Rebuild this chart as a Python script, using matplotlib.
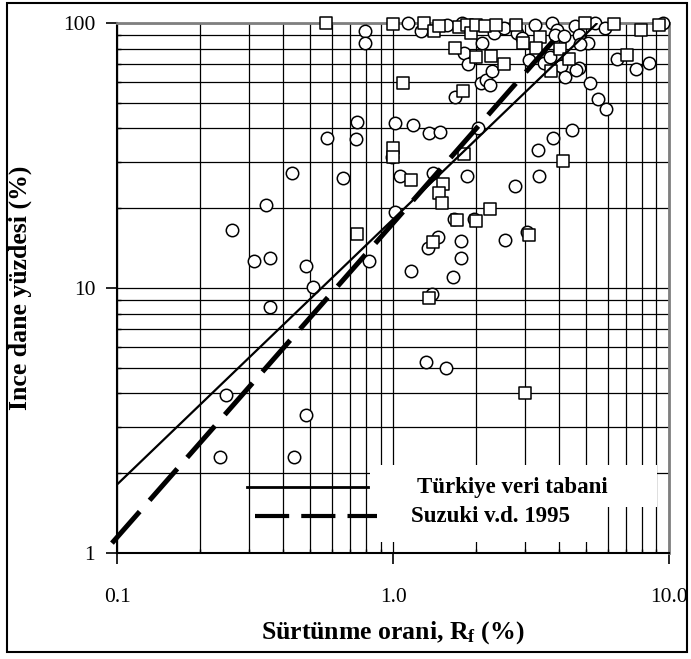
import matplotlib
matplotlib.use("Agg")
import matplotlib.pyplot as plt
from matplotlib.patches import Rectangle
from matplotlib.lines import Line2D

plt.rcParams['font.family'] = ['Liberation Serif', 'DejaVu Serif']
plt.rcParams['mathtext.fontset'] = 'custom'
plt.rcParams['mathtext.rm'] = 'Liberation Serif:bold'
plt.rcParams['mathtext.bf'] = 'Liberation Serif:bold'
plt.rcParams['mathtext.it'] = 'Liberation Serif:bold'

# ---- data ----
circle_x = [0.235, 0.248, 0.261, 0.346, 0.314, 0.356, 0.356, 0.429, 0.435, 0.483,
            0.483, 0.511, 0.574, 0.656, 0.739, 0.733, 0.790, 0.790, 0.814, 1.017,
            0.992, 1.017, 1.06, 1.178, 1.165, 1.136, 1.259, 1.35, 1.476, 1.395,
            1.313, 1.559, 1.342, 1.458, 1.38, 1.564, 1.648, 1.676, 1.758, 1.758,
            1.772, 1.806, 1.872, 1.857, 2.035, 2.104, 2.076, 2.164, 2.243, 2.275,
            2.319, 2.52, 2.542, 2.762, 2.815, 2.928, 3.104, 3.282, 3.345, 3.373,
            3.531, 3.775, 3.8, 3.928, 3.853, 4.153, 3.928, 3.719, 4.075, 4.188,
            4.466, 4.552, 4.707, 5.085, 4.774, 4.735, 4.602, 5.188, 5.41, 5.529,
            5.88, 5.908, 6.474, 7.585, 8.48, 9.55, 1.666, 1.963, 3.05]
circle_y = [2.31, 3.95, 16.5, 20.5, 12.7, 13.0, 8.5, 27.1, 2.31, 12.1,
            3.31, 10.1, 36.9, 25.9, 42.4, 36.5, 93.5, 83.8, 12.6, 42.0,
            31.2, 19.3, 26.5, 41.3, 11.6, 100, 93.3, 38.4, 38.9, 27.2,
            5.26, 4.98, 14.2, 15.6, 9.49, 98.5, 11.0, 52.6, 15.1, 13.0,
            100, 77.3, 70.2, 26.5, 40.0, 83.7, 59.3, 60.9, 58.3, 65.9,
            91.9, 95.7, 15.2, 24.3, 91.3, 87.4, 72.2, 98.5, 33.2, 26.5,
            70.8, 100, 36.9, 93.9, 90.3, 89.3, 75.5, 74.4, 68.8, 62.5,
            39.3, 97.4, 89.9, 83.7, 83.6, 67.6, 66.3, 59.5, 100, 51.5,
            95.7, 47.2, 73.3, 66.9, 70.8, 100, 18.2, 18.2, 16.3]

square_x = [0.571, 1.0, 1.0, 1.0, 0.739, 1.084, 1.165, 1.294, 1.407, 1.467,
            1.669, 1.726, 1.857, 1.91, 1.991, 1.991, 1.791, 1.806, 1.519, 1.467,
            1.498, 2.238, 1.704, 1.991, 1.395, 3.104, 1.35, 2.995, 2.157, 2.258,
            2.352, 2.52, 2.779, 2.96, 3.42, 3.299, 4.041, 4.33, 3.737, 4.977,
            6.325, 7.935, 9.2, 7.04, 4.126]
square_y = [99.7, 99.1, 33.8, 31.2, 16.0, 59.4, 25.6, 100, 93.3, 97.4,
            80.5, 96.6, 98.7, 91.3, 98.7, 74.1, 55.5, 32.0, 24.7, 22.8,
            21.0, 19.9, 18.0, 17.9, 14.9, 15.9, 9.19, 4.0, 97.2, 75.3,
            98.5, 70.0, 98.5, 84.0, 88.5, 80.5, 79.6, 73.3, 65.7, 100,
            99.4, 93.7, 98.7, 75.5, 30.2]

turkiye_x = [0.1, 5.5]
turkiye_y = [1.82, 100]
suzuki_x = [0.0955, 4.04]
suzuki_y = [1.09, 91.9]

x_ticks = [0.1, 1.0, 10.0]
x_ticklabels = ['0.1', '1.0', '10.0']
y_ticks = [1, 10, 100]
y_ticklabels = ['1', '10', '100']

legend_labels = ['Türkiye veri tabani', 'Suzuki v.d. 1995']

# ---- figure ----
fig = plt.figure(figsize=(6.91, 6.59), dpi=100)
ax = fig.add_axes([0.170, 0.1608, 0.798, 0.8043])
ax.set_xscale('log')
ax.set_yscale('log')
ax.set_xlim(0.1, 10)
ax.set_ylim(1, 100)

ax.grid(True, which='both', color='black', linewidth=0.9, zorder=1)
ax.set_axisbelow(True)

ax.scatter(circle_x, circle_y, s=80, marker='o', facecolors='white',
           edgecolors='black', linewidths=1.1, zorder=3, clip_on=False)
ax.scatter(square_x, square_y, s=72, marker='s', facecolors='white',
           edgecolors='black', linewidths=1.1, zorder=3.5, clip_on=False)

ax.plot(turkiye_x, turkiye_y, color='black', lw=1.6, zorder=5,
        solid_capstyle='butt')
ax.plot(suzuki_x, suzuki_y, color='black', lw=3.6, zorder=5,
        linestyle=(0, (8.4, 3.0)), dash_capstyle='butt', clip_on=False)

ax.set_xticks(x_ticks)
ax.set_xticklabels(x_ticklabels)
ax.set_yticks(y_ticks)
ax.set_yticklabels(y_ticklabels)
ax.xaxis.set_minor_formatter(plt.NullFormatter())
ax.yaxis.set_minor_formatter(plt.NullFormatter())
ax.tick_params(axis='both', which='major', direction='out', length=8,
               width=1.2, labelsize=15.5)
ax.tick_params(axis='x', which='major', pad=17)
ax.tick_params(axis='y', which='major', pad=8)
ax.tick_params(axis='both', which='minor', direction='in', length=3, width=1)

for s in ['left', 'bottom']:
    ax.spines[s].set_color('black')
    ax.spines[s].set_linewidth(1.5)
for s in ['top', 'right']:
    ax.spines[s].set_color('#7f7f7f')
    ax.spines[s].set_linewidth(2)

ax.set_xlabel('Sürtünme orani, R$_{\\mathbf{f}}$ (%)', fontsize=18.5,
              fontweight='bold')
ax.set_ylabel('Ince dane yüzdesi (%)', fontsize=18.5, fontweight='bold')
ax.xaxis.set_label_coords(0.5, -0.125)
ax.yaxis.set_label_coords(-0.155, 0.5)

# legend area
ax.add_patch(Rectangle((0.458, 0.0868), 0.52, 0.0792, transform=ax.transAxes,
                       facecolor='white', edgecolor='none', zorder=2))
ax.add_patch(Rectangle((0.458, 0.0208), 0.417, 0.0792, transform=ax.transAxes,
                       facecolor='white', edgecolor='none', zorder=2))
ax.add_line(Line2D([0.2348, 0.4542], [0.1245, 0.1245], transform=ax.transAxes,
                   color='black', lw=2.0, zorder=6))
ax.add_line(Line2D([0.2493, 0.470], [0.0698, 0.0698], transform=ax.transAxes,
                   color='black', lw=3.0, linestyle=(0, (8.2, 2.9)),
                   dash_capstyle='butt', zorder=6))
ax.text(0.543, 0.1245, legend_labels[0], transform=ax.transAxes, fontsize=16.5,
        fontweight='bold', va='center', ha='left', zorder=7)
ax.text(0.532, 0.0698, legend_labels[1], transform=ax.transAxes, fontsize=16.5,
        fontweight='bold', va='center', ha='left', zorder=7)

# outer border
fig.patches.append(Rectangle((0.0101, 0.0106), 0.984, 0.985,
                             transform=fig.transFigure, fill=False,
                             edgecolor='black', linewidth=1.5))

fig.savefig('out.png', dpi=100)
